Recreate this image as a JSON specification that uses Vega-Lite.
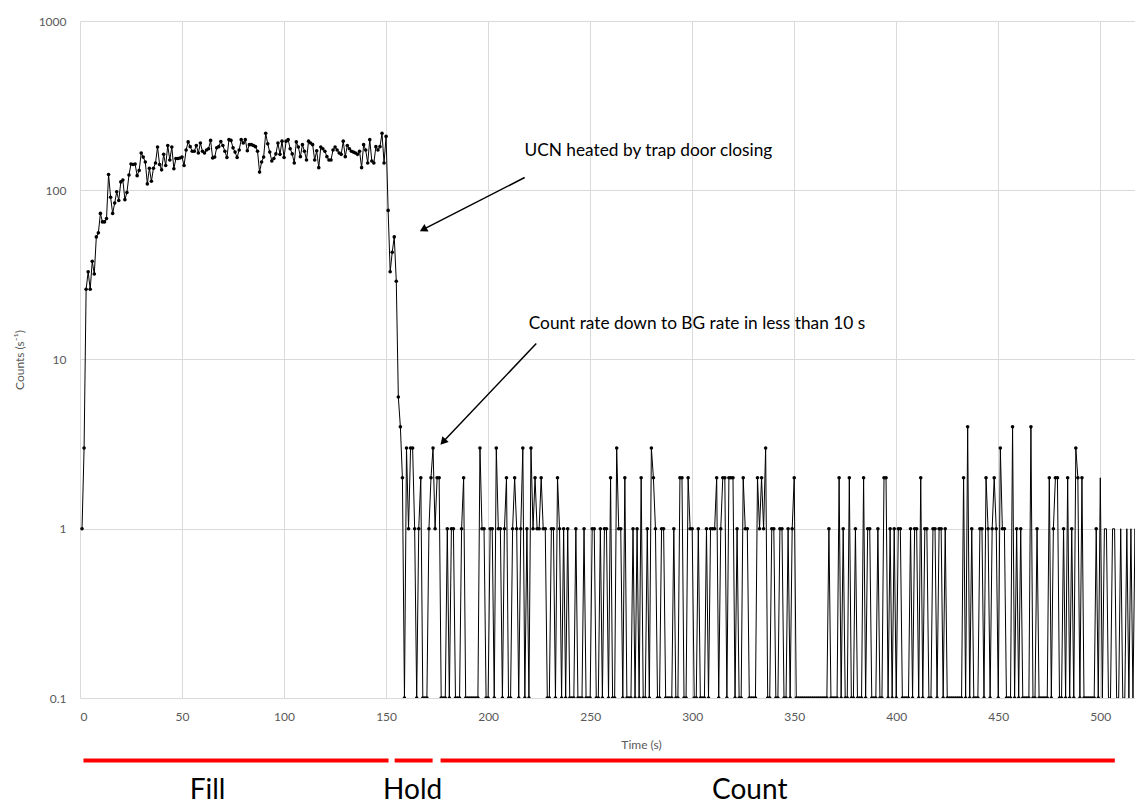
{
"$schema": "https://vega.github.io/schema/vega-lite/v6.json",
"width": 1055,
"height": 677,
"autosize": {"type": "none"},
"padding": {"left": 80, "top": 21, "right": 0, "bottom": 107},
"background": "white",
"config": {"view": {"stroke": null}, "axis": {"labelFont": "Lato", "labelFontSize": 12, "labelColor": "#595959", "titleFont": "Lato", "titleFontSize": 12, "titleFontWeight": "normal", "titleColor": "#595959", "gridColor": "#d9d9d9", "gridWidth": 1, "domain": false, "ticks": false, "tickSize": 0}},
"datasets": {
"counts": [
{"t":1,"c":1},{"t":2,"c":3},{"t":3,"c":26},{"t":4,"c":33},{"t":5,"c":26},{"t":6,"c":38},{"t":7,"c":32},{"t":8,"c":53},{"t":9,"c":56},{"t":10,"c":73},
{"t":11,"c":65},{"t":12,"c":65},{"t":13,"c":68},{"t":14,"c":124},{"t":15,"c":91},{"t":16,"c":73},{"t":17,"c":84},{"t":18,"c":98},{"t":19,"c":87},{"t":20,"c":112},
{"t":21,"c":115},{"t":22,"c":88},{"t":23,"c":97},{"t":24,"c":123},{"t":25,"c":143},{"t":26,"c":142},{"t":27,"c":143},{"t":28,"c":122},{"t":29,"c":131},{"t":30,"c":166},
{"t":31,"c":157},{"t":32,"c":147},{"t":33,"c":109},{"t":34,"c":135},{"t":35,"c":113},{"t":36,"c":135},{"t":37,"c":145},{"t":38,"c":180},{"t":39,"c":142},{"t":40,"c":132},
{"t":41,"c":163},{"t":42,"c":140},{"t":43,"c":184},{"t":44,"c":151},{"t":45,"c":180},{"t":46,"c":134},{"t":47,"c":154},{"t":48,"c":154},{"t":49,"c":155},{"t":50,"c":157},
{"t":51,"c":140},{"t":52,"c":173},{"t":53,"c":193},{"t":54,"c":181},{"t":55,"c":170},{"t":56,"c":170},{"t":57,"c":184},{"t":58,"c":166},{"t":59,"c":190},{"t":60,"c":170},
{"t":61,"c":166},{"t":62,"c":173},{"t":63,"c":176},{"t":64,"c":197},{"t":65,"c":155},{"t":66,"c":157},{"t":67,"c":178},{"t":68,"c":181},{"t":69,"c":194},{"t":70,"c":184},
{"t":71,"c":170},{"t":72,"c":156},{"t":73,"c":199},{"t":74,"c":197},{"t":75,"c":178},{"t":76,"c":168},{"t":77,"c":156},{"t":78,"c":173},{"t":79,"c":199},{"t":80,"c":190},
{"t":81,"c":199},{"t":82,"c":171},{"t":83,"c":186},{"t":84,"c":186},{"t":85,"c":184},{"t":86,"c":181},{"t":87,"c":170},{"t":88,"c":128},{"t":89,"c":147},{"t":90,"c":157},
{"t":91,"c":217},{"t":92,"c":188},{"t":93,"c":168},{"t":94,"c":149},{"t":95,"c":154},{"t":96,"c":164},{"t":97,"c":190},{"t":98,"c":163},{"t":99,"c":195},{"t":100,"c":156},
{"t":101,"c":195},{"t":102,"c":199},{"t":103,"c":176},{"t":104,"c":164},{"t":105,"c":145},{"t":106,"c":193},{"t":107,"c":180},{"t":108,"c":158},{"t":109,"c":186},{"t":110,"c":170},
{"t":111,"c":151},{"t":112,"c":195},{"t":113,"c":190},{"t":114,"c":186},{"t":115,"c":151},{"t":116,"c":171},{"t":117,"c":136},{"t":118,"c":180},{"t":119,"c":176},{"t":120,"c":170},
{"t":121,"c":158},{"t":122,"c":151},{"t":123,"c":151},{"t":124,"c":173},{"t":125,"c":180},{"t":126,"c":173},{"t":127,"c":166},{"t":128,"c":163},{"t":129,"c":195},{"t":130,"c":158},
{"t":131,"c":184},{"t":132,"c":176},{"t":133,"c":170},{"t":134,"c":168},{"t":135,"c":166},{"t":136,"c":163},{"t":137,"c":170},{"t":138,"c":136},{"t":139,"c":186},{"t":140,"c":173},
{"t":141,"c":145},{"t":142,"c":199},{"t":143,"c":149},{"t":144,"c":145},{"t":145,"c":181},{"t":146,"c":173},{"t":147,"c":181},{"t":148,"c":217},{"t":149,"c":145},{"t":150,"c":208},
{"t":151,"c":76},{"t":152,"c":33},{"t":153,"c":43},{"t":154,"c":53},{"t":155,"c":29},{"t":156,"c":6},{"t":157,"c":4},{"t":158,"c":2},{"t":159,"c":0.1},{"t":160,"c":3},
{"t":161,"c":1},{"t":162,"c":3},{"t":163,"c":3},{"t":164,"c":1},{"t":165,"c":0.1},{"t":166,"c":1},{"t":167,"c":2},{"t":168,"c":0.1},{"t":169,"c":0.1},{"t":170,"c":0.1},
{"t":171,"c":1},{"t":172,"c":2},{"t":173,"c":3},{"t":174,"c":1},{"t":175,"c":2},{"t":176,"c":2},{"t":177,"c":0.1},{"t":178,"c":0.1},{"t":179,"c":0.1},{"t":180,"c":1},
{"t":181,"c":0.1},{"t":182,"c":1},{"t":183,"c":1},{"t":184,"c":0.1},{"t":185,"c":0.1},{"t":186,"c":0.1},{"t":187,"c":1},{"t":188,"c":2},{"t":189,"c":0.1},{"t":190,"c":0.1},
{"t":191,"c":0.1},{"t":192,"c":0.1},{"t":193,"c":0.1},{"t":194,"c":0.1},{"t":195,"c":0.1},{"t":196,"c":3},{"t":197,"c":1},{"t":198,"c":1},{"t":199,"c":0.1},{"t":200,"c":0.1},
{"t":201,"c":1},{"t":202,"c":1},{"t":203,"c":0.1},{"t":204,"c":3},{"t":205,"c":1},{"t":206,"c":1},{"t":207,"c":0.1},{"t":208,"c":1},{"t":209,"c":2},{"t":210,"c":0.1},
{"t":211,"c":0.1},{"t":212,"c":1},{"t":213,"c":2},{"t":214,"c":1},{"t":215,"c":0.1},{"t":216,"c":1},{"t":217,"c":3},{"t":218,"c":0.1},{"t":219,"c":1},{"t":220,"c":0.1},
{"t":221,"c":3},{"t":222,"c":1},{"t":223,"c":2},{"t":224,"c":1},{"t":225,"c":1},{"t":226,"c":2},{"t":227,"c":1},{"t":228,"c":1},{"t":229,"c":0.1},{"t":230,"c":0.1},
{"t":231,"c":1},{"t":232,"c":1},{"t":233,"c":0.1},{"t":234,"c":2},{"t":235,"c":1},{"t":236,"c":0.1},{"t":237,"c":1},{"t":238,"c":0.1},{"t":239,"c":1},{"t":240,"c":0.1},
{"t":241,"c":0.1},{"t":242,"c":0.1},{"t":243,"c":1},{"t":244,"c":0.1},{"t":245,"c":0.1},{"t":246,"c":0.1},{"t":247,"c":1},{"t":248,"c":0.1},{"t":249,"c":0.1},{"t":250,"c":0.1},
{"t":251,"c":1},{"t":252,"c":1},{"t":253,"c":0.1},{"t":254,"c":0.1},{"t":255,"c":1},{"t":256,"c":0.1},{"t":257,"c":1},{"t":258,"c":1},{"t":259,"c":0.1},{"t":260,"c":2},
{"t":261,"c":0.1},{"t":262,"c":0.1},{"t":263,"c":3},{"t":264,"c":1},{"t":265,"c":1},{"t":266,"c":0.1},{"t":267,"c":2},{"t":268,"c":0.1},{"t":269,"c":0.1},{"t":270,"c":0.1},
{"t":271,"c":1},{"t":272,"c":0.1},{"t":273,"c":1},{"t":274,"c":0.1},{"t":275,"c":2},{"t":276,"c":0.1},{"t":277,"c":0.1},{"t":278,"c":1},{"t":279,"c":0.1},{"t":280,"c":3},
{"t":281,"c":2},{"t":282,"c":1},{"t":283,"c":0.1},{"t":284,"c":0.1},{"t":285,"c":1},{"t":286,"c":1},{"t":287,"c":0.1},{"t":288,"c":0.1},{"t":289,"c":0.1},{"t":290,"c":0.1},
{"t":291,"c":1},{"t":292,"c":0.1},{"t":293,"c":0.1},{"t":294,"c":2},{"t":295,"c":2},{"t":296,"c":0.1},{"t":297,"c":0.1},{"t":298,"c":2},{"t":299,"c":1},{"t":300,"c":1},
{"t":301,"c":0.1},{"t":302,"c":0.1},{"t":303,"c":1},{"t":304,"c":0.1},{"t":305,"c":0.1},{"t":306,"c":0.1},{"t":307,"c":1},{"t":308,"c":0.1},{"t":309,"c":1},{"t":310,"c":1},
{"t":311,"c":1},{"t":312,"c":2},{"t":313,"c":0.1},{"t":314,"c":1},{"t":315,"c":2},{"t":316,"c":2},{"t":317,"c":0.1},{"t":318,"c":2},{"t":319,"c":2},{"t":320,"c":2},
{"t":321,"c":0.1},{"t":322,"c":1},{"t":323,"c":0.1},{"t":324,"c":0.1},{"t":325,"c":2},{"t":326,"c":1},{"t":327,"c":1},{"t":328,"c":0.1},{"t":329,"c":0.1},{"t":330,"c":0.1},
{"t":331,"c":0.1},{"t":332,"c":2},{"t":333,"c":1},{"t":334,"c":2},{"t":335,"c":1},{"t":336,"c":3},{"t":337,"c":0.1},{"t":338,"c":0.1},{"t":339,"c":1},{"t":340,"c":1},
{"t":341,"c":0.1},{"t":342,"c":0.1},{"t":343,"c":1},{"t":344,"c":1},{"t":345,"c":0.1},{"t":346,"c":0.1},{"t":347,"c":1},{"t":348,"c":0.1},{"t":349,"c":1},{"t":350,"c":2},
{"t":351,"c":0.1},{"t":352,"c":0.1},{"t":353,"c":0.1},{"t":354,"c":0.1},{"t":355,"c":0.1},{"t":356,"c":0.1},{"t":357,"c":0.1},{"t":358,"c":0.1},{"t":359,"c":0.1},{"t":360,"c":0.1},
{"t":361,"c":0.1},{"t":362,"c":0.1},{"t":363,"c":0.1},{"t":364,"c":0.1},{"t":365,"c":0.1},{"t":366,"c":0.1},{"t":367,"c":1},{"t":368,"c":0.1},{"t":369,"c":0.1},{"t":370,"c":0.1},
{"t":371,"c":0.1},{"t":372,"c":2},{"t":373,"c":0.1},{"t":374,"c":1},{"t":375,"c":0.1},{"t":376,"c":0.1},{"t":377,"c":2},{"t":378,"c":0.1},{"t":379,"c":0.1},{"t":380,"c":1},
{"t":381,"c":0.1},{"t":382,"c":0.1},{"t":383,"c":0.1},{"t":384,"c":2},{"t":385,"c":0.1},{"t":386,"c":1},{"t":387,"c":1},{"t":388,"c":0.1},{"t":389,"c":0.1},{"t":390,"c":0.1},
{"t":391,"c":1},{"t":392,"c":0.1},{"t":393,"c":0.1},{"t":394,"c":2},{"t":395,"c":2},{"t":396,"c":0.1},{"t":397,"c":1},{"t":398,"c":0.1},{"t":399,"c":1},{"t":400,"c":0.1},
{"t":401,"c":1},{"t":402,"c":1},{"t":403,"c":0.1},{"t":404,"c":0.1},{"t":405,"c":0.1},{"t":406,"c":0.1},{"t":407,"c":1},{"t":408,"c":0.1},{"t":409,"c":1},{"t":410,"c":1},
{"t":411,"c":0.1},{"t":412,"c":2},{"t":413,"c":0.1},{"t":414,"c":1},{"t":415,"c":1},{"t":416,"c":0.1},{"t":417,"c":0.1},{"t":418,"c":1},{"t":419,"c":1},{"t":420,"c":0.1},
{"t":421,"c":1},{"t":422,"c":1},{"t":423,"c":0.1},{"t":424,"c":1},{"t":425,"c":0.1},{"t":426,"c":0.1},{"t":427,"c":0.1},{"t":428,"c":0.1},{"t":429,"c":0.1},{"t":430,"c":0.1},
{"t":431,"c":0.1},{"t":432,"c":0.1},{"t":433,"c":2},{"t":434,"c":0.1},{"t":435,"c":4},{"t":436,"c":0.1},{"t":437,"c":1},{"t":438,"c":0.1},{"t":439,"c":0.1},{"t":440,"c":0.1},
{"t":441,"c":1},{"t":442,"c":1},{"t":443,"c":0.1},{"t":444,"c":2},{"t":445,"c":1},{"t":446,"c":0.1},{"t":447,"c":1},{"t":448,"c":2},{"t":449,"c":1},{"t":450,"c":0.1},
{"t":451,"c":3},{"t":452,"c":1},{"t":453,"c":1},{"t":454,"c":0.1},{"t":455,"c":0.1},{"t":456,"c":0.1},{"t":457,"c":4},{"t":458,"c":0.1},{"t":459,"c":1},{"t":460,"c":0.1},
{"t":461,"c":1},{"t":462,"c":0.1},{"t":463,"c":0.1},{"t":464,"c":0.1},{"t":465,"c":0.1},{"t":466,"c":4},{"t":467,"c":0.1},{"t":468,"c":0.1},{"t":469,"c":1},{"t":470,"c":0.1},
{"t":471,"c":0.1},{"t":472,"c":0.1},{"t":473,"c":0.1},{"t":474,"c":0.1},{"t":475,"c":2},{"t":476,"c":0.1},{"t":477,"c":1},{"t":478,"c":2},{"t":479,"c":2},{"t":480,"c":0.1},
{"t":481,"c":0.1},{"t":482,"c":1},{"t":483,"c":0.1},{"t":484,"c":2},{"t":485,"c":0.1},{"t":486,"c":1},{"t":487,"c":0.1},{"t":488,"c":3},{"t":489,"c":2},{"t":490,"c":0.1},
{"t":491,"c":2},{"t":492,"c":0.1},{"t":493,"c":0.1},{"t":494,"c":0.1},{"t":495,"c":0.1},{"t":496,"c":0.1},{"t":497,"c":0.1},{"t":498,"c":1},{"t":499,"c":0.1},{"t":500,"c":2},
{"t":501,"c":0.1},{"t":502,"c":1},{"t":503,"c":1},{"t":504,"c":0.1},{"t":505,"c":0.1},{"t":506,"c":1},{"t":507,"c":1},{"t":508,"c":0.1},{"t":509,"c":0.1},{"t":510,"c":1},
{"t":511,"c":0.1},{"t":512,"c":0.1},{"t":513,"c":1},{"t":514,"c":0.1},{"t":515,"c":1},{"t":516,"c":0.1},{"t":517,"c":1},{"t":518,"c":0.1}
],
"phases": [
{"phase":"Fill","start":1.7,"end":151.2,"mid":62.5},
{"phase":"Hold","start":154.2,"end":172.8,"mid":163},
{"phase":"Count","start":176.7,"end":507.1,"mid":328.2}
],
"notes": [
{"text":"UCN heated by trap door closing","x":217.8,"y":160.3},
{"text":"Count rate down to BG rate in less than 10 s","x":219.9,"y":15.2}
],
"arrows": [
{"id":"heat","x1":217.9,"y1":118.9,"x2":168.7,"y2":59.1},
{"id":"bg","x1":223.6,"y1":12.43,"x2":178.3,"y2":3.30}
]
},
"layer": [
{
"data": {"name": "counts"},
"mark": {"type": "line", "color": "#000000", "strokeWidth": 1, "clip": true},
"encoding": {
"x": {"field": "t", "type": "quantitative", "scale": {"domain": [0, 517], "nice": false, "zero": false},
"axis": {"values": [0,50,100,150,200,250,300,350,400,450,500], "title": "Time (s)", "grid": true, "labelPadding": 13, "titlePadding": 17, "titleX": 561}},
"y": {"field": "c", "type": "quantitative", "scale": {"type": "log", "domain": [0.1, 1000], "nice": false},
"axis": {"values": [0.1,1,10,100,1000], "format": "~g", "title": "Counts (s⁻¹)", "grid": true, "labelPadding": 14, "titlePadding": 12}}
}
},
{
"data": {"name": "counts"},
"transform": [{"filter": "datum.t <= 499"}],
"mark": {"type": "point", "filled": true, "color": "#000000", "size": 13, "opacity": 1, "clip": true},
"encoding": {
"x": {"field": "t", "type": "quantitative", "scale": {"domain": [0, 517], "nice": false, "zero": false},
"axis": {"values": [0,50,100,150,200,250,300,350,400,450,500], "title": "Time (s)", "grid": true, "labelPadding": 13, "titlePadding": 17, "titleX": 561}},
"y": {"field": "c", "type": "quantitative", "scale": {"type": "log", "domain": [0.1, 1000], "nice": false},
"axis": {"values": [0.1,1,10,100,1000], "format": "~g", "title": "Counts (s⁻¹)", "grid": true, "labelPadding": 14, "titlePadding": 12}}
}
},
{
"data": {"name": "arrows"},
"mark": {"type": "rule", "color": "#000000", "strokeWidth": 1.5},
"encoding": {
"x": {"field": "x1", "type": "quantitative", "scale": {"domain": [0, 517], "nice": false, "zero": false},
"axis": {"values": [0,50,100,150,200,250,300,350,400,450,500], "title": "Time (s)", "grid": true, "labelPadding": 13, "titlePadding": 17, "titleX": 561}},
"x2": {"field": "x2"},
"y": {"field": "y1", "type": "quantitative", "scale": {"type": "log", "domain": [0.1, 1000], "nice": false},
"axis": {"values": [0.1,1,10,100,1000], "format": "~g", "title": "Counts (s⁻¹)", "grid": true, "labelPadding": 14, "titlePadding": 12}},
"y2": {"field": "y2"}
}
},
{
"data": {"name": "arrows"},
"transform": [{"filter": "datum.id == 'heat'"}],
"mark": {"type": "point", "shape": "triangle", "filled": true, "color": "#000000", "opacity": 1, "size": 75, "angle": 242},
"encoding": {
"x": {"field": "x2", "type": "quantitative", "scale": {"domain": [0, 517], "nice": false, "zero": false},
"axis": {"values": [0,50,100,150,200,250,300,350,400,450,500], "title": "Time (s)", "grid": true, "labelPadding": 13, "titlePadding": 17, "titleX": 561}},
"y": {"field": "y2", "type": "quantitative", "scale": {"type": "log", "domain": [0.1, 1000], "nice": false},
"axis": {"values": [0.1,1,10,100,1000], "format": "~g", "title": "Counts (s⁻¹)", "grid": true, "labelPadding": 14, "titlePadding": 12}}
}
},
{
"data": {"name": "arrows"},
"transform": [{"filter": "datum.id == 'bg'"}],
"mark": {"type": "point", "shape": "triangle", "filled": true, "color": "#000000", "opacity": 1, "size": 75, "angle": 223},
"encoding": {
"x": {"field": "x2", "type": "quantitative", "scale": {"domain": [0, 517], "nice": false, "zero": false},
"axis": {"values": [0,50,100,150,200,250,300,350,400,450,500], "title": "Time (s)", "grid": true, "labelPadding": 13, "titlePadding": 17, "titleX": 561}},
"y": {"field": "y2", "type": "quantitative", "scale": {"type": "log", "domain": [0.1, 1000], "nice": false},
"axis": {"values": [0.1,1,10,100,1000], "format": "~g", "title": "Counts (s⁻¹)", "grid": true, "labelPadding": 14, "titlePadding": 12}}
}
},
{
"data": {"name": "notes"},
"mark": {"type": "text", "align": "left", "baseline": "alphabetic", "font": "Lato", "fontSize": 17.3, "color": "#000000"},
"encoding": {
"x": {"field": "x", "type": "quantitative", "scale": {"domain": [0, 517], "nice": false, "zero": false},
"axis": {"values": [0,50,100,150,200,250,300,350,400,450,500], "title": "Time (s)", "grid": true, "labelPadding": 13, "titlePadding": 17, "titleX": 561}},
"y": {"field": "y", "type": "quantitative", "scale": {"type": "log", "domain": [0.1, 1000], "nice": false},
"axis": {"values": [0.1,1,10,100,1000], "format": "~g", "title": "Counts (s⁻¹)", "grid": true, "labelPadding": 14, "titlePadding": 12}},
"text": {"field": "text"}
}
},
{
"data": {"name": "phases"},
"mark": {"type": "rule", "color": "#ff0000", "strokeWidth": 4},
"encoding": {
"x": {"field": "start", "type": "quantitative", "scale": {"domain": [0, 517], "nice": false, "zero": false},
"axis": {"values": [0,50,100,150,200,250,300,350,400,450,500], "title": "Time (s)", "grid": true, "labelPadding": 13, "titlePadding": 17, "titleX": 561}},
"x2": {"field": "end"},
"y": {"datum": 0.0428, "type": "quantitative", "scale": {"type": "log", "domain": [0.1, 1000], "nice": false},
"axis": {"values": [0.1,1,10,100,1000], "format": "~g", "title": "Counts (s⁻¹)", "grid": true, "labelPadding": 14, "titlePadding": 12}}
}
},
{
"data": {"name": "phases"},
"mark": {"type": "text", "align": "center", "baseline": "alphabetic", "font": "Lato", "fontSize": 28, "color": "#000000"},
"encoding": {
"x": {"field": "mid", "type": "quantitative", "scale": {"domain": [0, 517], "nice": false, "zero": false},
"axis": {"values": [0,50,100,150,200,250,300,350,400,450,500], "title": "Time (s)", "grid": true, "labelPadding": 13, "titlePadding": 17, "titleX": 561}},
"y": {"datum": 0.0252, "type": "quantitative", "scale": {"type": "log", "domain": [0.1, 1000], "nice": false},
"axis": {"values": [0.1,1,10,100,1000], "format": "~g", "title": "Counts (s⁻¹)", "grid": true, "labelPadding": 14, "titlePadding": 12}},
"text": {"field": "phase"}
}
}
]
}
